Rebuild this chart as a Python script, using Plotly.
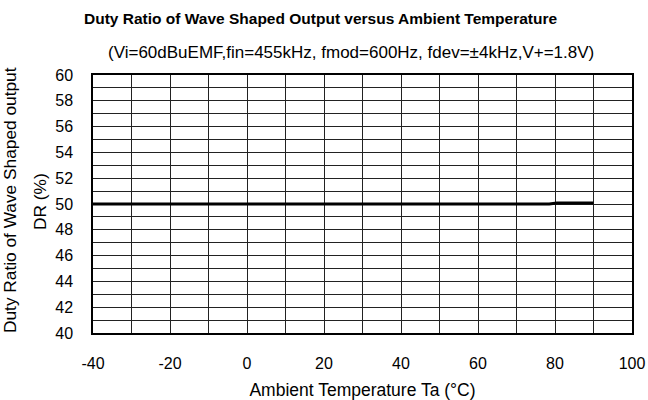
import plotly.graph_objects as go

# temperature (°C) and duty ratio (%)
temps = [-40, -30, -20, -10, 0, 10, 20, 30, 40, 50, 60, 70, 78.5, 80.5, 90]
duty = [50, 50, 50, 50, 50, 50, 50, 50, 50, 50, 50, 50, 50, 50.08, 50.08]

xticks = [-40, -20, 0, 20, 40, 60, 80, 100]
xlabels = ["-40", "-20", "0", "20", "40", "60", "80", "100"]
yticks = [40, 42, 44, 46, 48, 50, 52, 54, 56, 58, 60]

font = "Liberation Sans, Arial, sans-serif"

fig = go.Figure()
fig.add_trace(go.Scatter(x=temps, y=duty, mode="lines",
                         line=dict(color="black", width=3),
                         showlegend=False))

fig.update_layout(
    width=648, height=400,
    margin=dict(l=93, r=16, t=75, b=67),
    paper_bgcolor="white", plot_bgcolor="white",
    font=dict(family=font, size=16, color="black"),
    xaxis=dict(range=[-40, 100], tickvals=xticks, ticktext=xlabels,
               showgrid=True, gridcolor="#222", gridwidth=1,
               showline=True, linecolor="black", linewidth=1.5, mirror=True,
               zeroline=False, ticks="", ticklabelstandoff=15, automargin=False,
               title=dict(text="Ambient Temperature Ta (°C)", standoff=14,
                          font=dict(size=17.5))),
    yaxis=dict(range=[40, 60], tickvals=yticks,
               showgrid=False,
               showline=True, linecolor="black", linewidth=1.5, mirror=True,
               zeroline=False, ticks="", ticklabelstandoff=15, automargin=False),
)

# minor grid: vertical every 10, horizontal every 1
fig.update_xaxes(minor=dict(dtick=10, showgrid=True, gridcolor="#222", gridwidth=1))
fig.update_yaxes(minor=dict(dtick=1, showgrid=True, gridcolor="#222", gridwidth=1))

# y axis title, two lines
fig.add_annotation(text="Duty Ratio of Wave Shaped output", textangle=-90,
                   xref="paper", yref="paper", x=0, y=0.5, xshift=-83, yshift=4,
                   showarrow=False, xanchor="center", yanchor="middle",
                   font=dict(size=17.3, family=font))
fig.add_annotation(text="DR (%)", textangle=-90,
                   xref="paper", yref="paper", x=0, y=0.5, xshift=-53, yshift=2,
                   showarrow=False, xanchor="center", yanchor="middle",
                   font=dict(size=17.3, family=font))

fig.add_annotation(text="<b>Duty Ratio of Wave Shaped Output versus Ambient Temperature</b>",
                   xref="paper", yref="paper", x=0.423, y=1.0, yshift=57,
                   showarrow=False, xanchor="center", yanchor="middle",
                   font=dict(size=15.5, family=font))
fig.add_annotation(text="(Vi=60dBuEMF,fin=455kHz, fmod=600Hz, fdev=±4kHz,V+=1.8V)",
                   xref="paper", yref="paper", x=0.479, y=1.0, yshift=23,
                   showarrow=False, xanchor="center", yanchor="middle",
                   font=dict(size=17, family=font))

# the page body has an 8px default margin; drop it so the chart fills the window
fig.write_html("out.html", config={"displayModeBar": False},
               post_script="document.body.style.margin='0';")
